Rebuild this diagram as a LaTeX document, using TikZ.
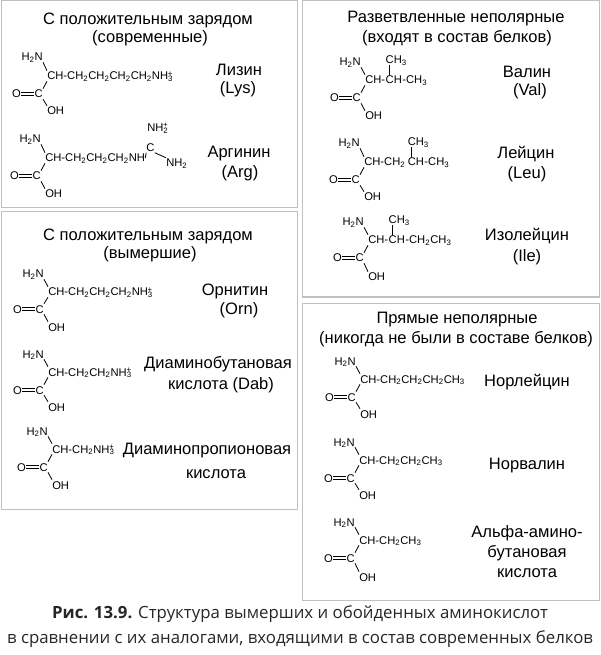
\documentclass[tikz,border=0pt]{standalone}
\usepackage{fontspec}
\setmainfont{Liberation Sans}
\newfontfamily\capfont{Open Sans}
\usepackage{tikz}

\definecolor{boxgray}{RGB}{192,192,192}

\begin{document}
\begin{tikzpicture}[x=0.75pt,y=0.75pt,yscale=-1,xscale=1,
  atom/.style={font=\fontsize{8.4}{10}\selectfont, inner xsep=0pt, inner ysep=0.75pt, text height=6pt, text depth=0pt},
  bond/.style={line width=0.6pt},
  dbond/.style={line width=0.5pt, double, double distance=1.8pt},
  headtext/.style={font=\fontsize{12.4}{15}\selectfont, inner sep=0pt, anchor=base},
  captext/.style={font=\capfont\fontsize{12.6}{15}\selectfont, color=black!85, inner sep=0pt, anchor=base}]
\useasboundingbox (0,0) rectangle (600,655);

%Shape: Rectangle
\draw [color=boxgray, line width=0.75]  (1,1) -- (297,1) -- (297,208) -- (1,208) -- cycle ;
%Shape: Rectangle
\draw [color=boxgray, line width=0.75]  (1,212) -- (297,212) -- (297,509) -- (1,509) -- cycle ;
%Shape: Rectangle
\draw [color=boxgray, line width=0.75]  (302,1) -- (599,1) -- (599,297) -- (302,297) -- cycle ;
%Shape: Rectangle
\draw [color=boxgray, line width=0.75]  (302,303) -- (599,303) -- (599,600) -- (302,600) -- cycle ;

% Text Node
\draw (148,25) node [headtext] (posHead) {С положительным зарядом};
\draw (150,43) node [headtext] (posSub) {(современные)};
\draw (148,241) node [headtext] (extHead) {С положительным зарядом};
\draw (150,259) node [headtext] (extSub) {(вымершие)};
\draw (456,23) node [headtext] (brHead) {Разветвленные неполярные};
\draw (457,43) node [headtext] (brSub) {(входят в состав белков)};
\draw (457,323) node [headtext] (strHead) {Прямые неполярные};
\draw (456,343) node [headtext] (strSub) {(никогда не были в составе белков)};

%Lysine
\draw (43,57) node [atom, anchor=east] (lysN) {H\textsubscript{2}N};
\draw (47,76) node [atom, anchor=west] (lysCH) {CH-CH\textsubscript{2}CH\textsubscript{2}CH\textsubscript{2}CH\textsubscript{2}NH\textsubscript{3}\llap{\textsuperscript{+}}};
\draw (21,94) node [atom, anchor=east] (lysO) {O};
\draw (43,94) node [atom, anchor=east] (lysC) {C};
\draw (47,111) node [atom, anchor=west] (lysOH) {OH};
\draw [bond] (lysN.south east) -- (lysCH.north west) ;
\draw [bond] (lysCH.south west) -- (lysC.north east) ;
\draw [dbond] (lysO) -- (lysC) ;
\draw [bond] (lysC.south east) -- (lysOH.north west) ;
\draw (239,76) node [headtext] (lysName) {Лизин};
\draw (238,94) node [headtext] (lysAbbr) {(Lys)};

%Arginine
\draw (41,139) node [atom, anchor=east] (argN) {H\textsubscript{2}N};
\draw (45,158) node [atom, anchor=west] (argCH) {CH-CH\textsubscript{2}CH\textsubscript{2}CH\textsubscript{2}NH};
\draw (19,176) node [atom, anchor=east] (argO) {O};
\draw (41,176) node [atom, anchor=east] (argC) {C};
\draw (45,194) node [atom, anchor=west] (argOH) {OH};
\draw (150.5,147.5) node [atom] (argCg) {C};
\draw (147,127.5) node [atom, anchor=west] (argNa) {NH\textsubscript{2}\llap{\textsuperscript{+}}};
\draw (166,163) node [atom, anchor=west] (argNb) {NH\textsubscript{2}};
\draw [bond] (argN.south east) -- (argCH.north west) ;
\draw [bond] (argCH.south west) -- (argC.north east) ;
\draw [dbond] (argO) -- (argC) ;
\draw [bond] (argC.south east) -- (argOH.north west) ;
\draw [bond] (argCH.east) -- (argCg.south west) ;
\draw [dbond] (argCg.north) -- (argCg.north |- argNa.south) ;
\draw [bond] (argCg.south east) -- (argNb.north west) ;
\draw (239,158) node [headtext] (argName) {Аргинин};
\draw (240,178) node [headtext] (argAbbr) {(Arg)};

%Ornithine
\draw (44,274) node [atom, anchor=east] (ornN) {H\textsubscript{2}N};
\draw (48,292) node [atom, anchor=west] (ornCH) {CH-CH\textsubscript{2}CH\textsubscript{2}CH\textsubscript{2}NH\textsubscript{3}\llap{\textsuperscript{+}}};
\draw (22,309) node [atom, anchor=east] (ornO) {O};
\draw (44,309) node [atom, anchor=east] (ornC) {C};
\draw (48,327) node [atom, anchor=west] (ornOH) {OH};
\draw [bond] (ornN.south east) -- (ornCH.north west) ;
\draw [bond] (ornCH.south west) -- (ornC.north east) ;
\draw [dbond] (ornO) -- (ornC) ;
\draw [bond] (ornC.south east) -- (ornOH.north west) ;
\draw (235,296) node [headtext] (ornName) {Орнитин};
\draw (239,314) node [headtext] (ornAbbr) {(Orn)};

%Diaminobutyric acid
\draw (44,354) node [atom, anchor=east] (dabN) {H\textsubscript{2}N};
\draw (48,372) node [atom, anchor=west] (dabCH) {CH-CH\textsubscript{2}CH\textsubscript{2}NH\textsubscript{3}\llap{\textsuperscript{+}}};
\draw (22,390) node [atom, anchor=east] (dabO) {O};
\draw (44,390) node [atom, anchor=east] (dabC) {C};
\draw (48,407) node [atom, anchor=west] (dabOH) {OH};
\draw [bond] (dabN.south east) -- (dabCH.north west) ;
\draw [bond] (dabCH.south west) -- (dabC.north east) ;
\draw [dbond] (dabO) -- (dabC) ;
\draw [bond] (dabC.south east) -- (dabOH.north west) ;
\draw (218,368) node [headtext] (dabName) {Диаминобутановая};
\draw (221,389) node [headtext] (dabAbbr) {кислота (Dab)};

%Diaminopropionic acid
\draw (48,431) node [atom, anchor=east] (dapN) {H\textsubscript{2}N};
\draw (52,449) node [atom, anchor=west] (dapCH) {CH-CH\textsubscript{2}NH\textsubscript{3}\llap{\textsuperscript{+}}};
\draw (26,467) node [atom, anchor=east] (dapO) {O};
\draw (48,467) node [atom, anchor=east] (dapC) {C};
\draw (52,485) node [atom, anchor=west] (dapOH) {OH};
\draw [bond] (dapN.south east) -- (dapCH.north west) ;
\draw [bond] (dapCH.south west) -- (dapC.north east) ;
\draw [dbond] (dapO) -- (dapC) ;
\draw [bond] (dapC.south east) -- (dapOH.north west) ;
\draw (207,454) node [headtext] (dapName) {Диаминопропионовая};
\draw (216,478) node [headtext] (dapAbbr) {кислота};

%Valine
\draw (361,62) node [atom, anchor=east] (valN) {H\textsubscript{2}N};
\draw (365,80) node [atom, anchor=west] (valCH) {CH-};
\draw (valCH.east) node [atom, anchor=west] (valCHb) {CH};
\draw (valCHb.east) node [atom, anchor=west] (valR) {-CH\textsubscript{3}};
\draw (valCHb.west |- 0,60) node [atom, anchor=west] (valMe) {CH\textsubscript{3}};
\draw (339,98) node [atom, anchor=east] (valO) {O};
\draw (361,98) node [atom, anchor=east] (valC) {C};
\draw (365,116) node [atom, anchor=west] (valOH) {OH};
\draw [bond] (valN.south east) -- (valCH.north west) ;
\draw [bond] (valCH.south west) -- (valC.north east) ;
\draw [dbond] (valO) -- (valC) ;
\draw [bond] (valC.south east) -- (valOH.north west) ;
\draw [bond] ([xshift=3pt]valMe.south west) -- ([xshift=3pt]valCHb.north west) ;
\draw (527,78) node [headtext] (valName) {Валин};
\draw (530,96) node [headtext] (valAbbr) {(Val)};

%Leucine
\draw (360,143) node [atom, anchor=east] (leuN) {H\textsubscript{2}N};
\draw (364,162) node [atom, anchor=west] (leuCH) {CH-CH\textsubscript{2}};
\draw (leuCH.east) node [atom, anchor=west] (leuCHb) {\,CH};
\draw (leuCHb.east) node [atom, anchor=west] (leuR) {-CH\textsubscript{3}};
\draw (leuCHb.west |- 0,142) node [atom, anchor=west] (leuMe) {\,CH\textsubscript{3}};
\draw (338,180) node [atom, anchor=east] (leuO) {O};
\draw (360,180) node [atom, anchor=east] (leuC) {C};
\draw (364,197) node [atom, anchor=west] (leuOH) {OH};
\draw [bond] (leuN.south east) -- (leuCH.north west) ;
\draw [bond] (leuCH.south west) -- (leuC.north east) ;
\draw [dbond] (leuO) -- (leuC) ;
\draw [bond] (leuC.south east) -- (leuOH.north west) ;
\draw [bond] ([xshift=4.2pt]leuMe.south west) -- ([xshift=4.2pt]leuCHb.north west) ;
\draw (526,159) node [headtext] (leuName) {Лейцин};
\draw (527,179) node [headtext] (leuAbbr) {(Leu)};

%Isoleucine
\draw (364,222) node [atom, anchor=east] (ileN) {H\textsubscript{2}N};
\draw (368,240) node [atom, anchor=west] (ileCH) {CH-};
\draw (ileCH.east) node [atom, anchor=west] (ileCHb) {CH};
\draw (ileCHb.east) node [atom, anchor=west] (ileR) {-CH\textsubscript{2}CH\textsubscript{3}};
\draw (ileCHb.west |- 0,220) node [atom, anchor=west] (ileMe) {CH\textsubscript{3}};
\draw (342,258) node [atom, anchor=east] (ileO) {O};
\draw (364,258) node [atom, anchor=east] (ileC) {C};
\draw (368,277) node [atom, anchor=west] (ileOH) {OH};
\draw [bond] (ileN.south east) -- (ileCH.north west) ;
\draw [bond] (ileCH.south west) -- (ileC.north east) ;
\draw [dbond] (ileO) -- (ileC) ;
\draw [bond] (ileC.south east) -- (ileOH.north west) ;
\draw [bond] ([xshift=3pt]ileMe.south west) -- ([xshift=3pt]ileCHb.north west) ;
\draw (527,241) node [headtext] (ileName) {Изолейцин};
\draw (527,262) node [headtext] (ileAbbr) {(Ile)};

%Norleucine
\draw (356,361) node [atom, anchor=east] (nleN) {H\textsubscript{2}N};
\draw (360,379) node [atom, anchor=west] (nleCH) {CH-CH\textsubscript{2}CH\textsubscript{2}CH\textsubscript{2}CH\textsubscript{3}};
\draw (334,397) node [atom, anchor=east] (nleO) {O};
\draw (356,397) node [atom, anchor=east] (nleC) {C};
\draw (360,414) node [atom, anchor=west] (nleOH) {OH};
\draw [bond] (nleN.south east) -- (nleCH.north west) ;
\draw [bond] (nleCH.south west) -- (nleC.north east) ;
\draw [dbond] (nleO) -- (nleC) ;
\draw [bond] (nleC.south east) -- (nleOH.north west) ;
\draw (527,386) node [headtext] (nleName) {Норлейцин};

%Norvaline
\draw (355,442) node [atom, anchor=east] (nvaN) {H\textsubscript{2}N};
\draw (359,460) node [atom, anchor=west] (nvaCH) {CH-CH\textsubscript{2}CH\textsubscript{2}CH\textsubscript{3}};
\draw (333,478) node [atom, anchor=east] (nvaO) {O};
\draw (355,478) node [atom, anchor=east] (nvaC) {C};
\draw (359,495) node [atom, anchor=west] (nvaOH) {OH};
\draw [bond] (nvaN.south east) -- (nvaCH.north west) ;
\draw [bond] (nvaCH.south west) -- (nvaC.north east) ;
\draw [dbond] (nvaO) -- (nvaC) ;
\draw [bond] (nvaC.south east) -- (nvaOH.north west) ;
\draw (527,469) node [headtext] (nvaName) {Норвалин};

%Alpha-aminobutyric acid
\draw (355,522) node [atom, anchor=east] (abuN) {H\textsubscript{2}N};
\draw (359,540) node [atom, anchor=west] (abuCH) {CH-CH\textsubscript{2}CH\textsubscript{3}};
\draw (333,558) node [atom, anchor=east] (abuO) {O};
\draw (355,558) node [atom, anchor=east] (abuC) {C};
\draw (359,577) node [atom, anchor=west] (abuOH) {OH};
\draw [bond] (abuN.south east) -- (abuCH.north west) ;
\draw [bond] (abuCH.south west) -- (abuC.north east) ;
\draw [dbond] (abuO) -- (abuC) ;
\draw [bond] (abuC.south east) -- (abuOH.north west) ;
\draw (527,537) node [headtext] (abuName) {Альфа-амино-};
\draw (527,557) node [headtext] (abuNameb) {бутановая};
\draw (527,577) node [headtext] (abuNamec) {кислота};

% Text Node
\draw (300,618) node [captext] (capA) {{\bfseries Рис. 13.9.} Структура вымерших и обойденных аминокислот};
\draw (300,643) node [captext] (capB) {в сравнении с их аналогами, входящими в состав современных белков};

\end{tikzpicture}
\end{document}
